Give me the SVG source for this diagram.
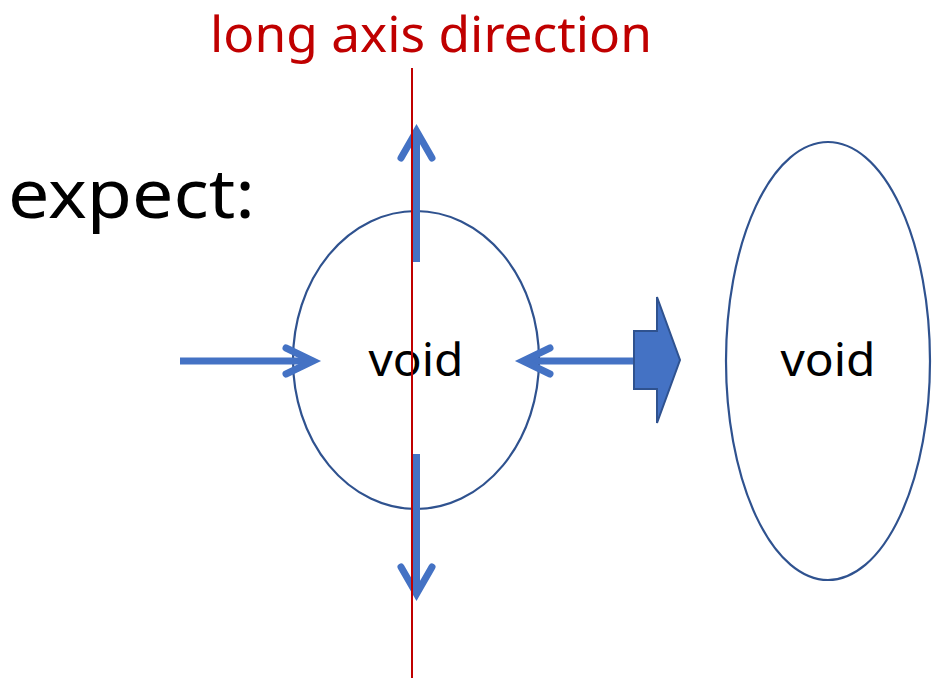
<svg xmlns="http://www.w3.org/2000/svg" width="935" height="678" viewBox="0 0 935 678">
<style>
.t{font-family:"Noto Sans","Liberation Sans",sans-serif;}
.ell{fill:none;stroke:#2F528F;stroke-width:2.2;}
.arr{fill:none;stroke:#4472C4;stroke-width:7;stroke-linecap:butt;}
.head{fill:none;stroke:#4472C4;stroke-width:7;stroke-linecap:round;stroke-linejoin:miter;}
</style>
<rect width="935" height="678" fill="#fff"/>
<text class="t" x="210" y="52" font-size="50" fill="#C00000" textLength="442" lengthAdjust="spacingAndGlyphs">long axis direction</text>
<text class="t" x="8" y="218" font-size="68" fill="#000" textLength="247" lengthAdjust="spacingAndGlyphs">expect:</text>
<g id="void1">
<ellipse class="ell" cx="416" cy="360" rx="123" ry="149"/>
<text class="t" x="416" y="376" font-size="46" fill="#000" text-anchor="middle" textLength="95" lengthAdjust="spacingAndGlyphs">void</text>
</g>
<g id="void2">
<ellipse class="ell" cx="828" cy="361" rx="102" ry="219"/>
<text class="t" x="828" y="376" font-size="46" fill="#000" text-anchor="middle" textLength="95" lengthAdjust="spacingAndGlyphs">void</text>
</g>
<g id="connectors">
<line class="arr" x1="416.5" y1="262" x2="416.5" y2="134"/>
<polyline class="head" points="401,158 416.5,131 432,158"/>
<line class="arr" x1="416.5" y1="454" x2="416.5" y2="592"/>
<polyline class="head" points="401,567 416.5,594 432,567"/>
<line class="arr" x1="180" y1="361" x2="310" y2="361"/>
<polyline class="head" points="286,348 313,361 286,374"/>
<line class="arr" x1="525" y1="361" x2="636" y2="361"/>
<polyline class="head" points="550,348 523,361 550,374"/>
<polygon points="634,331 657,331 657,297 680,360 657,423 657,389 634,389" fill="#4472C4" stroke="#2F528F" stroke-width="2"/>
</g>
<line x1="412" y1="68" x2="412" y2="678" stroke="#C00000" stroke-width="2"/>
</svg>
